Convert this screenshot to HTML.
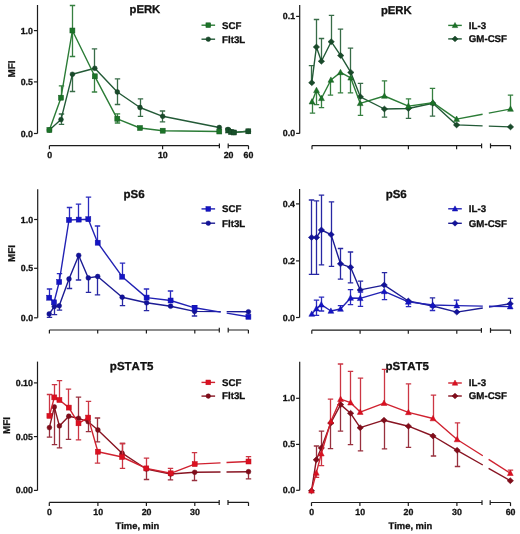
<!DOCTYPE html>
<html><head><meta charset="utf-8"><style>html,body{margin:0;padding:0;background:#fff;width:520px;height:534px;overflow:hidden}</style></head>
<body><svg width="520" height="534" viewBox="0 0 520 534" style="display:block;will-change:transform;font-family:'Liberation Sans', sans-serif;font-kerning:none;text-rendering:geometricPrecision">
<rect width="520" height="534" fill="#fff"/>
<path d="M37.5,5 V133.5" stroke="#1c1c1c" stroke-width="1.2" fill="none"/>
<path d="M33.90,30.6 H37.5" stroke="#1c1c1c" stroke-width="1.2"/>
<text x="32.90" y="33.60" font-size="8.8" font-weight="bold" text-anchor="end" fill="#111" stroke="#111" stroke-width="0.3" >1.0</text>
<path d="M33.90,81.9 H37.5" stroke="#1c1c1c" stroke-width="1.2"/>
<text x="32.90" y="84.90" font-size="8.8" font-weight="bold" text-anchor="end" fill="#111" stroke="#111" stroke-width="0.3" >0.5</text>
<path d="M33.90,133.5 H37.5" stroke="#1c1c1c" stroke-width="1.2"/>
<text x="32.90" y="136.50" font-size="8.8" font-weight="bold" text-anchor="end" fill="#111" stroke="#111" stroke-width="0.3" >0.0</text>
<path d="M49.4,145.7 H219.4 M228.2,145.7 H248.5" stroke="#1c1c1c" stroke-width="1.2" fill="none"/>
<path d="M49.4,145.7 V149.29999999999998" stroke="#1c1c1c" stroke-width="1.2"/>
<path d="M162.6,145.7 V149.29999999999998" stroke="#1c1c1c" stroke-width="1.2"/>
<path d="M219.4,143.39999999999998 V148.29999999999998" stroke="#1c1c1c" stroke-width="1.2"/>
<path d="M228.2,143.39999999999998 V148.29999999999998" stroke="#1c1c1c" stroke-width="1.2"/>
<path d="M248.5,145.7 V149.29999999999998" stroke="#1c1c1c" stroke-width="1.2"/>
<text x="49.60" y="158.40" font-size="8.8" font-weight="bold" text-anchor="middle" fill="#111" stroke="#111" stroke-width="0.3" >0</text>
<text x="162.80" y="158.40" font-size="8.8" font-weight="bold" text-anchor="middle" fill="#111" stroke="#111" stroke-width="0.3" >10</text>
<text x="228.60" y="158.40" font-size="8.8" font-weight="bold" text-anchor="middle" fill="#111" stroke="#111" stroke-width="0.3" >20</text>
<text x="248.40" y="158.40" font-size="8.8" font-weight="bold" text-anchor="middle" fill="#111" stroke="#111" stroke-width="0.3" >60</text>
<text x="0" y="0" font-size="9.9" font-weight="bold" text-anchor="middle" fill="#111" stroke="#111" stroke-width="0.3" transform="translate(14.90,69.00) rotate(-90)">MFI</text>
<text x="144.90" y="13.30" font-size="11.3" font-weight="bold" text-anchor="middle" fill="#111" stroke="#111" stroke-width="0.3" >pERK</text>
<path d="M201.50,25.2 H215.10" stroke="#2b7c36" stroke-width="1.4"/>
<rect x="205.93" y="22.82" width="4.75" height="4.75" fill="#1c7428" stroke="#145a20" stroke-width="0.5"/>
<text x="222.10" y="28.50" font-size="9.7" font-weight="bold" text-anchor="start" fill="#111" stroke="#111" stroke-width="0.3" >SCF</text>
<path d="M201.50,39.2 H215.10" stroke="#235a37" stroke-width="1.4"/>
<circle cx="208.30" cy="39.20" r="2.28" fill="#194a2a" stroke="#133c22" stroke-width="0.5"/>
<text x="222.10" y="42.50" font-size="9.7" font-weight="bold" text-anchor="start" fill="#111" stroke="#111" stroke-width="0.3" >Flt3L</text>
<path d="M61.50,119.60 V114.00 M58.80,114.00 H64.20" stroke="#386c48" stroke-width="1.3" fill="none"/>
<path d="M61.50,119.60 V124.30 M58.80,124.30 H64.20" stroke="#386c48" stroke-width="1.3" fill="none"/>
<path d="M72.50,74.30 V91.50 M69.80,91.50 H75.20" stroke="#386c48" stroke-width="1.3" fill="none"/>
<path d="M94.50,68.30 V48.80 M91.80,48.80 H97.20" stroke="#386c48" stroke-width="1.3" fill="none"/>
<path d="M117.50,92.00 V78.80 M114.80,78.80 H120.20" stroke="#386c48" stroke-width="1.3" fill="none"/>
<path d="M117.50,92.00 V104.50 M114.80,104.50 H120.20" stroke="#386c48" stroke-width="1.3" fill="none"/>
<path d="M140.50,107.50 V98.80 M137.80,98.80 H143.20" stroke="#386c48" stroke-width="1.3" fill="none"/>
<path d="M140.50,107.50 V116.30 M137.80,116.30 H143.20" stroke="#386c48" stroke-width="1.3" fill="none"/>
<path d="M162.50,116.30 V111.00 M159.80,111.00 H165.20" stroke="#386c48" stroke-width="1.3" fill="none"/>
<path d="M162.50,116.30 V121.80 M159.80,121.80 H165.20" stroke="#386c48" stroke-width="1.3" fill="none"/>
<path d="M49.40,130.00 L61.00,119.60 L72.40,74.30 L94.80,68.30 L117.30,92.00 L140.00,107.50 L162.70,116.30 L219.30,127.50" stroke="#235a37" stroke-width="1.4" fill="none" stroke-linejoin="round"/>
<circle cx="49.40" cy="130.00" r="2.40" fill="#194a2a" stroke="#133c22" stroke-width="0.5"/>
<circle cx="61.00" cy="119.60" r="2.40" fill="#194a2a" stroke="#133c22" stroke-width="0.5"/>
<circle cx="72.40" cy="74.30" r="2.40" fill="#194a2a" stroke="#133c22" stroke-width="0.5"/>
<circle cx="94.80" cy="68.30" r="2.40" fill="#194a2a" stroke="#133c22" stroke-width="0.5"/>
<circle cx="117.30" cy="92.00" r="2.40" fill="#194a2a" stroke="#133c22" stroke-width="0.5"/>
<circle cx="140.00" cy="107.50" r="2.40" fill="#194a2a" stroke="#133c22" stroke-width="0.5"/>
<circle cx="162.70" cy="116.30" r="2.40" fill="#194a2a" stroke="#133c22" stroke-width="0.5"/>
<circle cx="219.30" cy="127.50" r="2.40" fill="#194a2a" stroke="#133c22" stroke-width="0.5"/>
<path d="M228.00,129.50 L230.90,131.80 L233.90,132.40 L248.30,131.30" stroke="#235a37" stroke-width="1.4" fill="none" stroke-linejoin="round"/>
<circle cx="228.00" cy="129.50" r="2.40" fill="#194a2a" stroke="#133c22" stroke-width="0.5"/>
<circle cx="230.90" cy="131.80" r="2.40" fill="#194a2a" stroke="#133c22" stroke-width="0.5"/>
<circle cx="233.90" cy="132.40" r="2.40" fill="#194a2a" stroke="#133c22" stroke-width="0.5"/>
<circle cx="248.30" cy="131.30" r="2.40" fill="#194a2a" stroke="#133c22" stroke-width="0.5"/>
<path d="M61.50,97.70 V85.90 M58.80,85.90 H64.20" stroke="#368040" stroke-width="1.3" fill="none"/>
<path d="M72.50,30.50 V5.50 M69.80,5.50 H75.20" stroke="#368040" stroke-width="1.3" fill="none"/>
<path d="M72.50,30.50 V56.50 M69.80,56.50 H75.20" stroke="#368040" stroke-width="1.3" fill="none"/>
<path d="M94.50,76.30 V92.00 M91.80,92.00 H97.20" stroke="#368040" stroke-width="1.3" fill="none"/>
<path d="M117.50,118.80 V113.80 M114.80,113.80 H120.20" stroke="#368040" stroke-width="1.3" fill="none"/>
<path d="M117.50,118.80 V123.00 M114.80,123.00 H120.20" stroke="#368040" stroke-width="1.3" fill="none"/>
<path d="M49.40,130.00 L61.00,97.70 L72.40,30.50 L94.80,76.30 L117.30,118.80 L140.00,128.00 L162.70,130.70 L219.30,131.50" stroke="#2b7c36" stroke-width="1.4" fill="none" stroke-linejoin="round"/>
<rect x="46.90" y="127.50" width="5.00" height="5.00" fill="#1c7428" stroke="#145a20" stroke-width="0.5"/>
<rect x="58.50" y="95.20" width="5.00" height="5.00" fill="#1c7428" stroke="#145a20" stroke-width="0.5"/>
<rect x="69.90" y="28.00" width="5.00" height="5.00" fill="#1c7428" stroke="#145a20" stroke-width="0.5"/>
<rect x="92.30" y="73.80" width="5.00" height="5.00" fill="#1c7428" stroke="#145a20" stroke-width="0.5"/>
<rect x="114.80" y="116.30" width="5.00" height="5.00" fill="#1c7428" stroke="#145a20" stroke-width="0.5"/>
<rect x="137.50" y="125.50" width="5.00" height="5.00" fill="#1c7428" stroke="#145a20" stroke-width="0.5"/>
<rect x="160.20" y="128.20" width="5.00" height="5.00" fill="#1c7428" stroke="#145a20" stroke-width="0.5"/>
<rect x="216.80" y="129.00" width="5.00" height="5.00" fill="#1c7428" stroke="#145a20" stroke-width="0.5"/>
<path d="M228.20,130.50 L231.00,132.00 L234.00,132.50 L248.30,131.30" stroke="#2a6a3a" stroke-width="1.4" fill="none" stroke-linejoin="round"/>
<rect x="225.70" y="128.00" width="5.00" height="5.00" fill="#17502a" stroke="#123f20" stroke-width="0.5"/>
<rect x="228.50" y="129.50" width="5.00" height="5.00" fill="#17502a" stroke="#123f20" stroke-width="0.5"/>
<rect x="231.50" y="130.00" width="5.00" height="5.00" fill="#17502a" stroke="#123f20" stroke-width="0.5"/>
<rect x="245.80" y="128.80" width="5.00" height="5.00" fill="#17502a" stroke="#123f20" stroke-width="0.5"/>
<path d="M299.7,5.0 V133.5" stroke="#1c1c1c" stroke-width="1.2" fill="none"/>
<path d="M296.10,16.4 H299.7" stroke="#1c1c1c" stroke-width="1.2"/>
<text x="295.10" y="19.40" font-size="8.8" font-weight="bold" text-anchor="end" fill="#111" stroke="#111" stroke-width="0.3" >0.1</text>
<path d="M296.10,133.4 H299.7" stroke="#1c1c1c" stroke-width="1.2"/>
<text x="295.10" y="136.40" font-size="8.8" font-weight="bold" text-anchor="end" fill="#111" stroke="#111" stroke-width="0.3" >0.0</text>
<path d="M311.8,145.7 H481.6 M490.5,145.7 H510.5" stroke="#1c1c1c" stroke-width="1.2" fill="none"/>
<path d="M312,145.7 V149.29999999999998" stroke="#1c1c1c" stroke-width="1.2"/>
<path d="M360.3,145.7 V149.29999999999998" stroke="#1c1c1c" stroke-width="1.2"/>
<path d="M408.4,145.7 V149.29999999999998" stroke="#1c1c1c" stroke-width="1.2"/>
<path d="M456.6,145.7 V149.29999999999998" stroke="#1c1c1c" stroke-width="1.2"/>
<path d="M481.6,143.39999999999998 V148.29999999999998" stroke="#1c1c1c" stroke-width="1.2"/>
<path d="M490.5,143.39999999999998 V148.29999999999998" stroke="#1c1c1c" stroke-width="1.2"/>
<path d="M510.5,145.7 V149.29999999999998" stroke="#1c1c1c" stroke-width="1.2"/>
<text x="396.30" y="13.80" font-size="11.3" font-weight="bold" text-anchor="middle" fill="#111" stroke="#111" stroke-width="0.3" >pERK</text>
<path d="M448.20,25.4 H461.80" stroke="#2b7c36" stroke-width="1.4"/>
<path d="M455.00,22.45 L457.75,27.58 L452.25,27.58 Z" fill="#1c7428" stroke="#145a20" stroke-width="0.5" stroke-linejoin="round"/>
<text x="468.80" y="28.70" font-size="9.7" font-weight="bold" text-anchor="start" fill="#111" stroke="#111" stroke-width="0.3" >IL-3</text>
<path d="M448.20,38.9 H461.80" stroke="#235a37" stroke-width="1.4"/>
<path d="M455.00,36.05 L458.04,38.90 L455.00,41.75 L451.96,38.90 Z" fill="#194a2a" stroke="#133c22" stroke-width="0.5"/>
<text x="468.80" y="42.20" font-size="9.7" font-weight="bold" text-anchor="start" fill="#111" stroke="#111" stroke-width="0.3" >GM-CSF</text>
<path d="M311.50,82.70 V65.70 M308.80,65.70 H314.20" stroke="#386c48" stroke-width="1.3" fill="none"/>
<path d="M316.50,47.00 V19.50 M313.80,19.50 H319.20" stroke="#386c48" stroke-width="1.3" fill="none"/>
<path d="M321.50,61.30 V38.50 M318.80,38.50 H324.20" stroke="#386c48" stroke-width="1.3" fill="none"/>
<path d="M331.50,41.70 V15.40 M328.80,15.40 H334.20" stroke="#386c48" stroke-width="1.3" fill="none"/>
<path d="M340.50,55.60 V29.20 M337.80,29.20 H343.20" stroke="#386c48" stroke-width="1.3" fill="none"/>
<path d="M350.50,72.40 V48.20 M347.80,48.20 H353.20" stroke="#386c48" stroke-width="1.3" fill="none"/>
<path d="M360.50,96.80 V83.30 M357.80,83.30 H363.20" stroke="#386c48" stroke-width="1.3" fill="none"/>
<path d="M384.50,109.00 V117.10 M381.80,117.10 H387.20" stroke="#386c48" stroke-width="1.3" fill="none"/>
<path d="M408.50,108.50 V118.30 M405.80,118.30 H411.20" stroke="#386c48" stroke-width="1.3" fill="none"/>
<path d="M432.50,103.30 V116.20 M429.80,116.20 H435.20" stroke="#386c48" stroke-width="1.3" fill="none"/>
<path d="M311.80,82.70 L316.40,47.00 L321.40,61.30 L331.20,41.70 L340.70,55.60 L350.80,72.40 L360.30,96.80 L384.40,109.00 L408.40,108.50 L432.90,103.30 L456.60,124.90 L482.60,125.86" stroke="#235a37" stroke-width="1.4" fill="none" stroke-linejoin="round"/>
<path d="M488.80,126.09 L510.50,126.90" stroke="#235a37" stroke-width="1.4" fill="none" stroke-linejoin="round"/>
<path d="M311.80,79.70 L315.00,82.70 L311.80,85.70 L308.60,82.70 Z" fill="#194a2a" stroke="#133c22" stroke-width="0.5"/>
<path d="M316.40,44.00 L319.60,47.00 L316.40,50.00 L313.20,47.00 Z" fill="#194a2a" stroke="#133c22" stroke-width="0.5"/>
<path d="M321.40,58.30 L324.60,61.30 L321.40,64.30 L318.20,61.30 Z" fill="#194a2a" stroke="#133c22" stroke-width="0.5"/>
<path d="M331.20,38.70 L334.40,41.70 L331.20,44.70 L328.00,41.70 Z" fill="#194a2a" stroke="#133c22" stroke-width="0.5"/>
<path d="M340.70,52.60 L343.90,55.60 L340.70,58.60 L337.50,55.60 Z" fill="#194a2a" stroke="#133c22" stroke-width="0.5"/>
<path d="M350.80,69.40 L354.00,72.40 L350.80,75.40 L347.60,72.40 Z" fill="#194a2a" stroke="#133c22" stroke-width="0.5"/>
<path d="M360.30,93.80 L363.50,96.80 L360.30,99.80 L357.10,96.80 Z" fill="#194a2a" stroke="#133c22" stroke-width="0.5"/>
<path d="M384.40,106.00 L387.60,109.00 L384.40,112.00 L381.20,109.00 Z" fill="#194a2a" stroke="#133c22" stroke-width="0.5"/>
<path d="M408.40,105.50 L411.60,108.50 L408.40,111.50 L405.20,108.50 Z" fill="#194a2a" stroke="#133c22" stroke-width="0.5"/>
<path d="M432.90,100.30 L436.10,103.30 L432.90,106.30 L429.70,103.30 Z" fill="#194a2a" stroke="#133c22" stroke-width="0.5"/>
<path d="M456.60,121.90 L459.80,124.90 L456.60,127.90 L453.40,124.90 Z" fill="#194a2a" stroke="#133c22" stroke-width="0.5"/>
<path d="M510.50,123.90 L513.70,126.90 L510.50,129.90 L507.30,126.90 Z" fill="#194a2a" stroke="#133c22" stroke-width="0.5"/>
<path d="M312.50,101.70 V113.10 M309.80,113.10 H315.20" stroke="#368040" stroke-width="1.3" fill="none"/>
<path d="M316.50,90.30 V104.60 M313.80,104.60 H319.20" stroke="#368040" stroke-width="1.3" fill="none"/>
<path d="M321.50,98.30 V107.70 M318.80,107.70 H324.20" stroke="#368040" stroke-width="1.3" fill="none"/>
<path d="M330.50,80.00 V95.20 M327.80,95.20 H333.20" stroke="#368040" stroke-width="1.3" fill="none"/>
<path d="M340.50,72.40 V92.90 M337.80,92.90 H343.20" stroke="#368040" stroke-width="1.3" fill="none"/>
<path d="M350.50,77.80 V92.90 M347.80,92.90 H353.20" stroke="#368040" stroke-width="1.3" fill="none"/>
<path d="M360.50,103.30 V115.40 M357.80,115.40 H363.20" stroke="#368040" stroke-width="1.3" fill="none"/>
<path d="M384.50,96.00 V80.80 M381.80,80.80 H387.20" stroke="#368040" stroke-width="1.3" fill="none"/>
<path d="M408.50,106.10 V98.90 M405.80,98.90 H411.20" stroke="#368040" stroke-width="1.3" fill="none"/>
<path d="M432.50,102.70 V88.30 M429.80,88.30 H435.20" stroke="#368040" stroke-width="1.3" fill="none"/>
<path d="M510.50,109.00 V95.20 M507.80,95.20 H513.20" stroke="#368040" stroke-width="1.3" fill="none"/>
<path d="M312.00,101.70 L316.50,90.30 L321.50,98.30 L330.90,80.00 L340.50,72.40 L350.70,77.80 L360.20,103.30 L384.40,96.00 L408.40,106.10 L432.90,102.70 L456.60,119.10 L482.60,114.23" stroke="#2b7c36" stroke-width="1.4" fill="none" stroke-linejoin="round"/>
<path d="M488.80,113.07 L510.50,109.00" stroke="#2b7c36" stroke-width="1.4" fill="none" stroke-linejoin="round"/>
<path d="M312.00,98.60 L314.90,104.00 L309.10,104.00 Z" fill="#1c7428" stroke="#145a20" stroke-width="0.5" stroke-linejoin="round"/>
<path d="M316.50,87.20 L319.40,92.60 L313.60,92.60 Z" fill="#1c7428" stroke="#145a20" stroke-width="0.5" stroke-linejoin="round"/>
<path d="M321.50,95.20 L324.40,100.60 L318.60,100.60 Z" fill="#1c7428" stroke="#145a20" stroke-width="0.5" stroke-linejoin="round"/>
<path d="M330.90,76.90 L333.80,82.30 L328.00,82.30 Z" fill="#1c7428" stroke="#145a20" stroke-width="0.5" stroke-linejoin="round"/>
<path d="M340.50,69.30 L343.40,74.70 L337.60,74.70 Z" fill="#1c7428" stroke="#145a20" stroke-width="0.5" stroke-linejoin="round"/>
<path d="M350.70,74.70 L353.60,80.10 L347.80,80.10 Z" fill="#1c7428" stroke="#145a20" stroke-width="0.5" stroke-linejoin="round"/>
<path d="M360.20,100.20 L363.10,105.60 L357.30,105.60 Z" fill="#1c7428" stroke="#145a20" stroke-width="0.5" stroke-linejoin="round"/>
<path d="M384.40,92.90 L387.30,98.30 L381.50,98.30 Z" fill="#1c7428" stroke="#145a20" stroke-width="0.5" stroke-linejoin="round"/>
<path d="M408.40,103.00 L411.30,108.40 L405.50,108.40 Z" fill="#1c7428" stroke="#145a20" stroke-width="0.5" stroke-linejoin="round"/>
<path d="M432.90,99.60 L435.80,105.00 L430.00,105.00 Z" fill="#1c7428" stroke="#145a20" stroke-width="0.5" stroke-linejoin="round"/>
<path d="M456.60,116.00 L459.50,121.40 L453.70,121.40 Z" fill="#1c7428" stroke="#145a20" stroke-width="0.5" stroke-linejoin="round"/>
<path d="M510.50,105.90 L513.40,111.30 L507.60,111.30 Z" fill="#1c7428" stroke="#145a20" stroke-width="0.5" stroke-linejoin="round"/>
<path d="M37.7,189.2 V317.8" stroke="#1c1c1c" stroke-width="1.2" fill="none"/>
<path d="M34.10,219.5 H37.7" stroke="#1c1c1c" stroke-width="1.2"/>
<text x="33.10" y="222.50" font-size="8.8" font-weight="bold" text-anchor="end" fill="#111" stroke="#111" stroke-width="0.3" >1.0</text>
<path d="M34.10,268.3 H37.7" stroke="#1c1c1c" stroke-width="1.2"/>
<text x="33.10" y="271.30" font-size="8.8" font-weight="bold" text-anchor="end" fill="#111" stroke="#111" stroke-width="0.3" >0.5</text>
<path d="M34.10,317.8 H37.7" stroke="#1c1c1c" stroke-width="1.2"/>
<text x="33.10" y="320.80" font-size="8.8" font-weight="bold" text-anchor="end" fill="#111" stroke="#111" stroke-width="0.3" >0.0</text>
<path d="M49.4,330.0 H219.3 M228.2,330.0 H248.4" stroke="#1c1c1c" stroke-width="1.2" fill="none"/>
<path d="M49.4,330.0 V333.6" stroke="#1c1c1c" stroke-width="1.2"/>
<path d="M97.7,330.0 V333.6" stroke="#1c1c1c" stroke-width="1.2"/>
<path d="M146.4,330.0 V333.6" stroke="#1c1c1c" stroke-width="1.2"/>
<path d="M194.8,330.0 V333.6" stroke="#1c1c1c" stroke-width="1.2"/>
<path d="M219.3,327.7 V332.6" stroke="#1c1c1c" stroke-width="1.2"/>
<path d="M228.2,327.7 V332.6" stroke="#1c1c1c" stroke-width="1.2"/>
<path d="M248.4,330.0 V333.6" stroke="#1c1c1c" stroke-width="1.2"/>
<text x="0" y="0" font-size="9.9" font-weight="bold" text-anchor="middle" fill="#111" stroke="#111" stroke-width="0.3" transform="translate(14.90,253.60) rotate(-90)">MFI</text>
<text x="134.00" y="198.00" font-size="11.5" font-weight="bold" text-anchor="middle" fill="#111" stroke="#111" stroke-width="0.3" >pS6</text>
<path d="M201.50,208.9 H215.10" stroke="#2222b4" stroke-width="1.4"/>
<rect x="205.93" y="206.53" width="4.75" height="4.75" fill="#1414c4" stroke="#1010a8" stroke-width="0.5"/>
<text x="222.10" y="212.20" font-size="9.7" font-weight="bold" text-anchor="start" fill="#111" stroke="#111" stroke-width="0.3" >SCF</text>
<path d="M201.50,223.2 H215.10" stroke="#1c1c94" stroke-width="1.4"/>
<circle cx="208.30" cy="223.20" r="2.28" fill="#12129a" stroke="#0e0e80" stroke-width="0.5"/>
<text x="222.10" y="226.50" font-size="9.7" font-weight="bold" text-anchor="start" fill="#111" stroke="#111" stroke-width="0.3" >Flt3L</text>
<path d="M49.50,314.00 V317.30 M46.80,317.30 H52.20" stroke="#2828a4" stroke-width="1.3" fill="none"/>
<path d="M54.50,306.60 V314.60 M51.80,314.60 H57.20" stroke="#2828a4" stroke-width="1.3" fill="none"/>
<path d="M59.50,305.80 V310.20 M56.80,310.20 H62.20" stroke="#2828a4" stroke-width="1.3" fill="none"/>
<path d="M69.50,279.00 V288.50 M66.80,288.50 H72.20" stroke="#2828a4" stroke-width="1.3" fill="none"/>
<path d="M78.50,255.40 V280.00 M75.80,280.00 H81.20" stroke="#2828a4" stroke-width="1.3" fill="none"/>
<path d="M88.50,277.90 V292.30 M85.80,292.30 H91.20" stroke="#2828a4" stroke-width="1.3" fill="none"/>
<path d="M97.50,276.50 V294.80 M94.80,294.80 H100.20" stroke="#2828a4" stroke-width="1.3" fill="none"/>
<path d="M122.50,297.20 V305.70 M119.80,305.70 H125.20" stroke="#2828a4" stroke-width="1.3" fill="none"/>
<path d="M146.50,302.80 V310.60 M143.80,310.60 H149.20" stroke="#2828a4" stroke-width="1.3" fill="none"/>
<path d="M194.50,311.40 V316.00 M191.80,316.00 H197.20" stroke="#2828a4" stroke-width="1.3" fill="none"/>
<path d="M49.20,314.00 L54.30,306.60 L59.20,305.80 L69.00,279.00 L78.70,255.40 L88.30,277.90 L97.70,276.50 L122.20,297.20 L146.60,302.80 L170.60,306.20 L194.60,311.40 L220.70,311.59" stroke="#1c1c94" stroke-width="1.4" fill="none" stroke-linejoin="round"/>
<path d="M226.70,311.64 L248.40,311.80" stroke="#1c1c94" stroke-width="1.4" fill="none" stroke-linejoin="round"/>
<circle cx="49.20" cy="314.00" r="2.40" fill="#12129a" stroke="#0e0e80" stroke-width="0.5"/>
<circle cx="54.30" cy="306.60" r="2.40" fill="#12129a" stroke="#0e0e80" stroke-width="0.5"/>
<circle cx="59.20" cy="305.80" r="2.40" fill="#12129a" stroke="#0e0e80" stroke-width="0.5"/>
<circle cx="69.00" cy="279.00" r="2.40" fill="#12129a" stroke="#0e0e80" stroke-width="0.5"/>
<circle cx="78.70" cy="255.40" r="2.40" fill="#12129a" stroke="#0e0e80" stroke-width="0.5"/>
<circle cx="88.30" cy="277.90" r="2.40" fill="#12129a" stroke="#0e0e80" stroke-width="0.5"/>
<circle cx="97.70" cy="276.50" r="2.40" fill="#12129a" stroke="#0e0e80" stroke-width="0.5"/>
<circle cx="122.20" cy="297.20" r="2.40" fill="#12129a" stroke="#0e0e80" stroke-width="0.5"/>
<circle cx="146.60" cy="302.80" r="2.40" fill="#12129a" stroke="#0e0e80" stroke-width="0.5"/>
<circle cx="170.60" cy="306.20" r="2.40" fill="#12129a" stroke="#0e0e80" stroke-width="0.5"/>
<circle cx="194.60" cy="311.40" r="2.40" fill="#12129a" stroke="#0e0e80" stroke-width="0.5"/>
<circle cx="248.40" cy="311.80" r="2.40" fill="#12129a" stroke="#0e0e80" stroke-width="0.5"/>
<path d="M49.50,297.70 V289.00 M46.80,289.00 H52.20" stroke="#2b2bbe" stroke-width="1.3" fill="none"/>
<path d="M59.50,282.00 V273.70 M56.80,273.70 H62.20" stroke="#2b2bbe" stroke-width="1.3" fill="none"/>
<path d="M69.50,220.00 V207.50 M66.80,207.50 H72.20" stroke="#2b2bbe" stroke-width="1.3" fill="none"/>
<path d="M78.50,219.60 V204.20 M75.80,204.20 H81.20" stroke="#2b2bbe" stroke-width="1.3" fill="none"/>
<path d="M88.50,219.20 V197.10 M85.80,197.10 H91.20" stroke="#2b2bbe" stroke-width="1.3" fill="none"/>
<path d="M97.50,242.70 V226.00 M94.80,226.00 H100.20" stroke="#2b2bbe" stroke-width="1.3" fill="none"/>
<path d="M122.50,276.70 V263.20 M119.80,263.20 H125.20" stroke="#2b2bbe" stroke-width="1.3" fill="none"/>
<path d="M146.50,297.60 V289.00 M143.80,289.00 H149.20" stroke="#2b2bbe" stroke-width="1.3" fill="none"/>
<path d="M170.50,300.50 V291.00 M167.80,291.00 H173.20" stroke="#2b2bbe" stroke-width="1.3" fill="none"/>
<path d="M194.50,307.80 V305.70 M191.80,305.70 H197.20" stroke="#2b2bbe" stroke-width="1.3" fill="none"/>
<path d="M49.20,297.70 L54.00,302.30 L59.20,282.00 L69.00,220.00 L78.70,219.60 L88.30,219.20 L97.70,242.70 L122.20,276.70 L146.60,297.60 L170.60,300.50 L194.60,307.80 L220.70,312.17" stroke="#2222b4" stroke-width="1.4" fill="none" stroke-linejoin="round"/>
<path d="M226.70,313.17 L248.40,316.80" stroke="#2222b4" stroke-width="1.4" fill="none" stroke-linejoin="round"/>
<rect x="46.70" y="295.20" width="5.00" height="5.00" fill="#1414c4" stroke="#1010a8" stroke-width="0.5"/>
<rect x="51.50" y="299.80" width="5.00" height="5.00" fill="#1414c4" stroke="#1010a8" stroke-width="0.5"/>
<rect x="56.70" y="279.50" width="5.00" height="5.00" fill="#1414c4" stroke="#1010a8" stroke-width="0.5"/>
<rect x="66.50" y="217.50" width="5.00" height="5.00" fill="#1414c4" stroke="#1010a8" stroke-width="0.5"/>
<rect x="76.20" y="217.10" width="5.00" height="5.00" fill="#1414c4" stroke="#1010a8" stroke-width="0.5"/>
<rect x="85.80" y="216.70" width="5.00" height="5.00" fill="#1414c4" stroke="#1010a8" stroke-width="0.5"/>
<rect x="95.20" y="240.20" width="5.00" height="5.00" fill="#1414c4" stroke="#1010a8" stroke-width="0.5"/>
<rect x="119.70" y="274.20" width="5.00" height="5.00" fill="#1414c4" stroke="#1010a8" stroke-width="0.5"/>
<rect x="144.10" y="295.10" width="5.00" height="5.00" fill="#1414c4" stroke="#1010a8" stroke-width="0.5"/>
<rect x="168.10" y="298.00" width="5.00" height="5.00" fill="#1414c4" stroke="#1010a8" stroke-width="0.5"/>
<rect x="192.10" y="305.30" width="5.00" height="5.00" fill="#1414c4" stroke="#1010a8" stroke-width="0.5"/>
<rect x="245.90" y="314.30" width="5.00" height="5.00" fill="#1414c4" stroke="#1010a8" stroke-width="0.5"/>
<path d="M299.6,189 V317.5" stroke="#1c1c1c" stroke-width="1.2" fill="none"/>
<path d="M296.00,203.9 H299.6" stroke="#1c1c1c" stroke-width="1.2"/>
<text x="295.00" y="206.90" font-size="8.8" font-weight="bold" text-anchor="end" fill="#111" stroke="#111" stroke-width="0.3" >0.4</text>
<path d="M296.00,260.9 H299.6" stroke="#1c1c1c" stroke-width="1.2"/>
<text x="295.00" y="263.90" font-size="8.8" font-weight="bold" text-anchor="end" fill="#111" stroke="#111" stroke-width="0.3" >0.2</text>
<path d="M296.00,317.5 H299.6" stroke="#1c1c1c" stroke-width="1.2"/>
<text x="295.00" y="320.50" font-size="8.8" font-weight="bold" text-anchor="end" fill="#111" stroke="#111" stroke-width="0.3" >0.0</text>
<path d="M311.8,330.2 H481.4 M490.5,330.2 H510.5" stroke="#1c1c1c" stroke-width="1.2" fill="none"/>
<path d="M311.8,330.2 V333.8" stroke="#1c1c1c" stroke-width="1.2"/>
<path d="M360.1,330.2 V333.8" stroke="#1c1c1c" stroke-width="1.2"/>
<path d="M408.3,330.2 V333.8" stroke="#1c1c1c" stroke-width="1.2"/>
<path d="M456.8,330.2 V333.8" stroke="#1c1c1c" stroke-width="1.2"/>
<path d="M481.4,327.9 V332.8" stroke="#1c1c1c" stroke-width="1.2"/>
<path d="M490.5,327.9 V332.8" stroke="#1c1c1c" stroke-width="1.2"/>
<path d="M510.5,330.2 V333.8" stroke="#1c1c1c" stroke-width="1.2"/>
<text x="396.20" y="198.00" font-size="11.5" font-weight="bold" text-anchor="middle" fill="#111" stroke="#111" stroke-width="0.3" >pS6</text>
<path d="M448.20,208.8 H461.80" stroke="#2222b4" stroke-width="1.4"/>
<path d="M455.00,205.86 L457.75,210.99 L452.25,210.99 Z" fill="#1414c4" stroke="#1010a8" stroke-width="0.5" stroke-linejoin="round"/>
<text x="468.80" y="212.10" font-size="9.7" font-weight="bold" text-anchor="start" fill="#111" stroke="#111" stroke-width="0.3" >IL-3</text>
<path d="M448.20,223.3 H461.80" stroke="#1c1c94" stroke-width="1.4"/>
<path d="M455.00,220.45 L458.04,223.30 L455.00,226.15 L451.96,223.30 Z" fill="#12129a" stroke="#0e0e80" stroke-width="0.5"/>
<text x="468.80" y="226.60" font-size="9.7" font-weight="bold" text-anchor="start" fill="#111" stroke="#111" stroke-width="0.3" >GM-CSF</text>
<path d="M311.50,237.40 V200.00 M308.80,200.00 H314.20" stroke="#2828a4" stroke-width="1.3" fill="none"/>
<path d="M311.50,237.40 V274.40 M308.80,274.40 H314.20" stroke="#2828a4" stroke-width="1.3" fill="none"/>
<path d="M316.50,237.40 V200.80 M313.80,200.80 H319.20" stroke="#2828a4" stroke-width="1.3" fill="none"/>
<path d="M316.50,237.40 V274.40 M313.80,274.40 H319.20" stroke="#2828a4" stroke-width="1.3" fill="none"/>
<path d="M321.50,230.00 V195.10 M318.80,195.10 H324.20" stroke="#2828a4" stroke-width="1.3" fill="none"/>
<path d="M321.50,230.00 V264.80 M318.80,264.80 H324.20" stroke="#2828a4" stroke-width="1.3" fill="none"/>
<path d="M331.50,234.60 V201.80 M328.80,201.80 H334.20" stroke="#2828a4" stroke-width="1.3" fill="none"/>
<path d="M331.50,234.60 V266.30 M328.80,266.30 H334.20" stroke="#2828a4" stroke-width="1.3" fill="none"/>
<path d="M340.50,263.80 V248.50 M337.80,248.50 H343.20" stroke="#2828a4" stroke-width="1.3" fill="none"/>
<path d="M340.50,263.80 V279.10 M337.80,279.10 H343.20" stroke="#2828a4" stroke-width="1.3" fill="none"/>
<path d="M350.50,267.30 V252.00 M347.80,252.00 H353.20" stroke="#2828a4" stroke-width="1.3" fill="none"/>
<path d="M350.50,267.30 V282.80 M347.80,282.80 H353.20" stroke="#2828a4" stroke-width="1.3" fill="none"/>
<path d="M360.50,289.90 V281.20 M357.80,281.20 H363.20" stroke="#2828a4" stroke-width="1.3" fill="none"/>
<path d="M384.50,285.10 V272.70 M381.80,272.70 H387.20" stroke="#2828a4" stroke-width="1.3" fill="none"/>
<path d="M432.50,306.00 V297.80 M429.80,297.80 H435.20" stroke="#2828a4" stroke-width="1.3" fill="none"/>
<path d="M510.50,303.80 V298.30 M507.80,298.30 H513.20" stroke="#2828a4" stroke-width="1.3" fill="none"/>
<path d="M311.60,237.40 L316.50,237.40 L321.40,230.00 L331.10,234.60 L340.50,263.80 L350.60,267.30 L360.20,289.90 L384.20,285.10 L408.30,301.00 L432.80,306.00 L456.80,312.10 L482.80,308.06" stroke="#1c1c94" stroke-width="1.4" fill="none" stroke-linejoin="round"/>
<path d="M489.00,307.10 L510.20,303.80" stroke="#1c1c94" stroke-width="1.4" fill="none" stroke-linejoin="round"/>
<path d="M311.60,234.40 L314.80,237.40 L311.60,240.40 L308.40,237.40 Z" fill="#12129a" stroke="#0e0e80" stroke-width="0.5"/>
<path d="M316.50,234.40 L319.70,237.40 L316.50,240.40 L313.30,237.40 Z" fill="#12129a" stroke="#0e0e80" stroke-width="0.5"/>
<path d="M321.40,227.00 L324.60,230.00 L321.40,233.00 L318.20,230.00 Z" fill="#12129a" stroke="#0e0e80" stroke-width="0.5"/>
<path d="M331.10,231.60 L334.30,234.60 L331.10,237.60 L327.90,234.60 Z" fill="#12129a" stroke="#0e0e80" stroke-width="0.5"/>
<path d="M340.50,260.80 L343.70,263.80 L340.50,266.80 L337.30,263.80 Z" fill="#12129a" stroke="#0e0e80" stroke-width="0.5"/>
<path d="M350.60,264.30 L353.80,267.30 L350.60,270.30 L347.40,267.30 Z" fill="#12129a" stroke="#0e0e80" stroke-width="0.5"/>
<path d="M360.20,286.90 L363.40,289.90 L360.20,292.90 L357.00,289.90 Z" fill="#12129a" stroke="#0e0e80" stroke-width="0.5"/>
<path d="M384.20,282.10 L387.40,285.10 L384.20,288.10 L381.00,285.10 Z" fill="#12129a" stroke="#0e0e80" stroke-width="0.5"/>
<path d="M408.30,298.00 L411.50,301.00 L408.30,304.00 L405.10,301.00 Z" fill="#12129a" stroke="#0e0e80" stroke-width="0.5"/>
<path d="M432.80,303.00 L436.00,306.00 L432.80,309.00 L429.60,306.00 Z" fill="#12129a" stroke="#0e0e80" stroke-width="0.5"/>
<path d="M456.80,309.10 L460.00,312.10 L456.80,315.10 L453.60,312.10 Z" fill="#12129a" stroke="#0e0e80" stroke-width="0.5"/>
<path d="M510.20,300.80 L513.40,303.80 L510.20,306.80 L507.00,303.80 Z" fill="#12129a" stroke="#0e0e80" stroke-width="0.5"/>
<path d="M316.50,308.60 V300.20 M313.80,300.20 H319.20" stroke="#2b2bbe" stroke-width="1.3" fill="none"/>
<path d="M316.50,308.60 V315.30 M313.80,315.30 H319.20" stroke="#2b2bbe" stroke-width="1.3" fill="none"/>
<path d="M321.50,304.70 V297.10 M318.80,297.10 H324.20" stroke="#2b2bbe" stroke-width="1.3" fill="none"/>
<path d="M321.50,304.70 V311.00 M318.80,311.00 H324.20" stroke="#2b2bbe" stroke-width="1.3" fill="none"/>
<path d="M340.50,309.00 V305.60 M337.80,305.60 H343.20" stroke="#2b2bbe" stroke-width="1.3" fill="none"/>
<path d="M350.50,298.00 V289.60 M347.80,289.60 H353.20" stroke="#2b2bbe" stroke-width="1.3" fill="none"/>
<path d="M350.50,298.00 V304.70 M347.80,304.70 H353.20" stroke="#2b2bbe" stroke-width="1.3" fill="none"/>
<path d="M360.50,298.30 V292.00 M357.80,292.00 H363.20" stroke="#2b2bbe" stroke-width="1.3" fill="none"/>
<path d="M360.50,298.30 V306.40 M357.80,306.40 H363.20" stroke="#2b2bbe" stroke-width="1.3" fill="none"/>
<path d="M384.50,291.40 V299.70 M381.80,299.70 H387.20" stroke="#2b2bbe" stroke-width="1.3" fill="none"/>
<path d="M408.50,301.90 V306.70 M405.80,306.70 H411.20" stroke="#2b2bbe" stroke-width="1.3" fill="none"/>
<path d="M432.50,305.00 V310.50 M429.80,310.50 H435.20" stroke="#2b2bbe" stroke-width="1.3" fill="none"/>
<path d="M456.50,305.60 V300.20 M453.80,300.20 H459.20" stroke="#2b2bbe" stroke-width="1.3" fill="none"/>
<path d="M311.80,314.00 L316.50,308.60 L321.30,304.70 L330.90,311.00 L340.50,309.00 L350.60,298.00 L360.20,298.30 L384.20,291.40 L408.30,301.90 L432.80,305.00 L456.80,305.60 L482.80,306.09" stroke="#2222b4" stroke-width="1.4" fill="none" stroke-linejoin="round"/>
<path d="M489.00,306.20 L510.20,306.60" stroke="#2222b4" stroke-width="1.4" fill="none" stroke-linejoin="round"/>
<path d="M311.80,310.90 L314.70,316.30 L308.90,316.30 Z" fill="#1414c4" stroke="#1010a8" stroke-width="0.5" stroke-linejoin="round"/>
<path d="M316.50,305.50 L319.40,310.90 L313.60,310.90 Z" fill="#1414c4" stroke="#1010a8" stroke-width="0.5" stroke-linejoin="round"/>
<path d="M321.30,301.60 L324.20,307.00 L318.40,307.00 Z" fill="#1414c4" stroke="#1010a8" stroke-width="0.5" stroke-linejoin="round"/>
<path d="M330.90,307.90 L333.80,313.30 L328.00,313.30 Z" fill="#1414c4" stroke="#1010a8" stroke-width="0.5" stroke-linejoin="round"/>
<path d="M340.50,305.90 L343.40,311.30 L337.60,311.30 Z" fill="#1414c4" stroke="#1010a8" stroke-width="0.5" stroke-linejoin="round"/>
<path d="M350.60,294.90 L353.50,300.30 L347.70,300.30 Z" fill="#1414c4" stroke="#1010a8" stroke-width="0.5" stroke-linejoin="round"/>
<path d="M360.20,295.20 L363.10,300.60 L357.30,300.60 Z" fill="#1414c4" stroke="#1010a8" stroke-width="0.5" stroke-linejoin="round"/>
<path d="M384.20,288.30 L387.10,293.70 L381.30,293.70 Z" fill="#1414c4" stroke="#1010a8" stroke-width="0.5" stroke-linejoin="round"/>
<path d="M408.30,298.80 L411.20,304.20 L405.40,304.20 Z" fill="#1414c4" stroke="#1010a8" stroke-width="0.5" stroke-linejoin="round"/>
<path d="M432.80,301.90 L435.70,307.30 L429.90,307.30 Z" fill="#1414c4" stroke="#1010a8" stroke-width="0.5" stroke-linejoin="round"/>
<path d="M456.80,302.50 L459.70,307.90 L453.90,307.90 Z" fill="#1414c4" stroke="#1010a8" stroke-width="0.5" stroke-linejoin="round"/>
<path d="M510.20,303.50 L513.10,308.90 L507.30,308.90 Z" fill="#1414c4" stroke="#1010a8" stroke-width="0.5" stroke-linejoin="round"/>
<path d="M37.5,361.6 V490.5" stroke="#1c1c1c" stroke-width="1.2" fill="none"/>
<path d="M33.90,382.9 H37.5" stroke="#1c1c1c" stroke-width="1.2"/>
<text x="32.90" y="385.90" font-size="8.8" font-weight="bold" text-anchor="end" fill="#111" stroke="#111" stroke-width="0.3" >0.10</text>
<path d="M33.90,436.6 H37.5" stroke="#1c1c1c" stroke-width="1.2"/>
<text x="32.90" y="439.60" font-size="8.8" font-weight="bold" text-anchor="end" fill="#111" stroke="#111" stroke-width="0.3" >0.05</text>
<path d="M33.90,490.4 H37.5" stroke="#1c1c1c" stroke-width="1.2"/>
<text x="32.90" y="493.40" font-size="8.8" font-weight="bold" text-anchor="end" fill="#111" stroke="#111" stroke-width="0.3" >0.00</text>
<path d="M49.3,502.4 H219.2 M228,502.4 H248.5" stroke="#1c1c1c" stroke-width="1.2" fill="none"/>
<path d="M49.3,502.4 V506.0" stroke="#1c1c1c" stroke-width="1.2"/>
<path d="M97.9,502.4 V506.0" stroke="#1c1c1c" stroke-width="1.2"/>
<path d="M146.4,502.4 V506.0" stroke="#1c1c1c" stroke-width="1.2"/>
<path d="M194.8,502.4 V506.0" stroke="#1c1c1c" stroke-width="1.2"/>
<path d="M219.2,500.09999999999997 V505.0" stroke="#1c1c1c" stroke-width="1.2"/>
<path d="M228,500.09999999999997 V505.0" stroke="#1c1c1c" stroke-width="1.2"/>
<path d="M248.5,502.4 V506.0" stroke="#1c1c1c" stroke-width="1.2"/>
<text x="49.50" y="515.10" font-size="8.8" font-weight="bold" text-anchor="middle" fill="#111" stroke="#111" stroke-width="0.3" >0</text>
<text x="98.20" y="515.10" font-size="8.8" font-weight="bold" text-anchor="middle" fill="#111" stroke="#111" stroke-width="0.3" >10</text>
<text x="146.60" y="515.10" font-size="8.8" font-weight="bold" text-anchor="middle" fill="#111" stroke="#111" stroke-width="0.3" >20</text>
<text x="195.00" y="515.10" font-size="8.8" font-weight="bold" text-anchor="middle" fill="#111" stroke="#111" stroke-width="0.3" >30</text>
<text x="0" y="0" font-size="9.9" font-weight="bold" text-anchor="middle" fill="#111" stroke="#111" stroke-width="0.3" transform="translate(9.90,425.60) rotate(-90)">MFI</text>
<text x="131.60" y="370.30" font-size="11.5" font-weight="bold" text-anchor="middle" fill="#111" stroke="#111" stroke-width="0.3" >pSTAT5</text>
<text x="137.40" y="529.40" font-size="9.4" font-weight="bold" text-anchor="middle" fill="#111" stroke="#111" stroke-width="0.3" >Time, min</text>
<path d="M201.50,382.4 H215.10" stroke="#d02230" stroke-width="1.4"/>
<rect x="205.93" y="380.02" width="4.75" height="4.75" fill="#dc1020" stroke="#c00c1c" stroke-width="0.5"/>
<text x="222.10" y="385.70" font-size="9.7" font-weight="bold" text-anchor="start" fill="#111" stroke="#111" stroke-width="0.3" >SCF</text>
<path d="M201.50,396.1 H215.10" stroke="#881422" stroke-width="1.4"/>
<circle cx="208.30" cy="396.10" r="2.28" fill="#820c1a" stroke="#6a0a14" stroke-width="0.5"/>
<text x="222.10" y="399.40" font-size="9.7" font-weight="bold" text-anchor="start" fill="#111" stroke="#111" stroke-width="0.3" >Flt3L</text>
<path d="M49.50,427.60 V437.20 M46.80,437.20 H52.20" stroke="#98303e" stroke-width="1.3" fill="none"/>
<path d="M54.50,406.90 V444.60 M51.80,444.60 H57.20" stroke="#98303e" stroke-width="1.3" fill="none"/>
<path d="M59.50,425.90 V447.90 M56.80,447.90 H62.20" stroke="#98303e" stroke-width="1.3" fill="none"/>
<path d="M68.50,416.20 V439.40 M65.80,439.40 H71.20" stroke="#98303e" stroke-width="1.3" fill="none"/>
<path d="M78.50,418.30 V397.20 M75.80,397.20 H81.20" stroke="#98303e" stroke-width="1.3" fill="none"/>
<path d="M88.50,421.70 V431.60 M85.80,431.60 H91.20" stroke="#98303e" stroke-width="1.3" fill="none"/>
<path d="M97.50,430.00 V418.00 M94.80,418.00 H100.20" stroke="#98303e" stroke-width="1.3" fill="none"/>
<path d="M97.50,430.00 V441.80 M94.80,441.80 H100.20" stroke="#98303e" stroke-width="1.3" fill="none"/>
<path d="M122.50,453.20 V443.50 M119.80,443.50 H125.20" stroke="#98303e" stroke-width="1.3" fill="none"/>
<path d="M146.50,469.00 V479.50 M143.80,479.50 H149.20" stroke="#98303e" stroke-width="1.3" fill="none"/>
<path d="M170.50,474.00 V479.80 M167.80,479.80 H173.20" stroke="#98303e" stroke-width="1.3" fill="none"/>
<path d="M194.50,472.30 V480.50 M191.80,480.50 H197.20" stroke="#98303e" stroke-width="1.3" fill="none"/>
<path d="M248.50,471.70 V478.80 M245.80,478.80 H251.20" stroke="#98303e" stroke-width="1.3" fill="none"/>
<path d="M49.40,427.60 L54.30,406.90 L59.40,425.90 L68.80,416.20 L78.50,418.30 L88.20,421.70 L97.90,430.00 L122.10,453.20 L146.30,469.00 L170.70,474.00 L194.70,472.30 L220.50,472.01" stroke="#881422" stroke-width="1.4" fill="none" stroke-linejoin="round"/>
<path d="M226.50,471.95 L248.50,471.70" stroke="#881422" stroke-width="1.4" fill="none" stroke-linejoin="round"/>
<circle cx="49.40" cy="427.60" r="2.40" fill="#820c1a" stroke="#6a0a14" stroke-width="0.5"/>
<circle cx="54.30" cy="406.90" r="2.40" fill="#820c1a" stroke="#6a0a14" stroke-width="0.5"/>
<circle cx="59.40" cy="425.90" r="2.40" fill="#820c1a" stroke="#6a0a14" stroke-width="0.5"/>
<circle cx="68.80" cy="416.20" r="2.40" fill="#820c1a" stroke="#6a0a14" stroke-width="0.5"/>
<circle cx="78.50" cy="418.30" r="2.40" fill="#820c1a" stroke="#6a0a14" stroke-width="0.5"/>
<circle cx="88.20" cy="421.70" r="2.40" fill="#820c1a" stroke="#6a0a14" stroke-width="0.5"/>
<circle cx="97.90" cy="430.00" r="2.40" fill="#820c1a" stroke="#6a0a14" stroke-width="0.5"/>
<circle cx="122.10" cy="453.20" r="2.40" fill="#820c1a" stroke="#6a0a14" stroke-width="0.5"/>
<circle cx="146.30" cy="469.00" r="2.40" fill="#820c1a" stroke="#6a0a14" stroke-width="0.5"/>
<circle cx="170.70" cy="474.00" r="2.40" fill="#820c1a" stroke="#6a0a14" stroke-width="0.5"/>
<circle cx="194.70" cy="472.30" r="2.40" fill="#820c1a" stroke="#6a0a14" stroke-width="0.5"/>
<circle cx="248.50" cy="471.70" r="2.40" fill="#820c1a" stroke="#6a0a14" stroke-width="0.5"/>
<path d="M49.50,415.90 V394.50 M46.80,394.50 H52.20" stroke="#cc3644" stroke-width="1.3" fill="none"/>
<path d="M54.50,397.40 V384.70 M51.80,384.70 H57.20" stroke="#cc3644" stroke-width="1.3" fill="none"/>
<path d="M59.50,400.00 V380.60 M56.80,380.60 H62.20" stroke="#cc3644" stroke-width="1.3" fill="none"/>
<path d="M68.50,407.60 V389.10 M65.80,389.10 H71.20" stroke="#cc3644" stroke-width="1.3" fill="none"/>
<path d="M78.50,423.30 V439.90 M75.80,439.90 H81.20" stroke="#cc3644" stroke-width="1.3" fill="none"/>
<path d="M88.50,417.60 V401.40 M85.80,401.40 H91.20" stroke="#cc3644" stroke-width="1.3" fill="none"/>
<path d="M97.50,451.70 V463.20 M94.80,463.20 H100.20" stroke="#cc3644" stroke-width="1.3" fill="none"/>
<path d="M122.50,457.00 V443.50 M119.80,443.50 H125.20" stroke="#cc3644" stroke-width="1.3" fill="none"/>
<path d="M122.50,457.00 V468.40 M119.80,468.40 H125.20" stroke="#cc3644" stroke-width="1.3" fill="none"/>
<path d="M146.50,468.40 V458.20 M143.80,458.20 H149.20" stroke="#cc3644" stroke-width="1.3" fill="none"/>
<path d="M170.50,473.30 V468.40 M167.80,468.40 H173.20" stroke="#cc3644" stroke-width="1.3" fill="none"/>
<path d="M194.50,464.10 V452.70 M191.80,452.70 H197.20" stroke="#cc3644" stroke-width="1.3" fill="none"/>
<path d="M248.50,461.50 V456.60 M245.80,456.60 H251.20" stroke="#cc3644" stroke-width="1.3" fill="none"/>
<path d="M49.40,415.90 L54.30,397.40 L59.40,400.00 L68.80,407.60 L78.50,423.30 L88.20,417.60 L97.90,451.70 L122.10,457.00 L146.30,468.40 L170.70,473.30 L194.70,464.10 L220.50,462.85" stroke="#d02230" stroke-width="1.4" fill="none" stroke-linejoin="round"/>
<path d="M226.50,462.56 L248.50,461.50" stroke="#d02230" stroke-width="1.4" fill="none" stroke-linejoin="round"/>
<rect x="46.90" y="413.40" width="5.00" height="5.00" fill="#dc1020" stroke="#c00c1c" stroke-width="0.5"/>
<rect x="51.80" y="394.90" width="5.00" height="5.00" fill="#dc1020" stroke="#c00c1c" stroke-width="0.5"/>
<rect x="56.90" y="397.50" width="5.00" height="5.00" fill="#dc1020" stroke="#c00c1c" stroke-width="0.5"/>
<rect x="66.30" y="405.10" width="5.00" height="5.00" fill="#dc1020" stroke="#c00c1c" stroke-width="0.5"/>
<rect x="76.00" y="420.80" width="5.00" height="5.00" fill="#dc1020" stroke="#c00c1c" stroke-width="0.5"/>
<rect x="85.70" y="415.10" width="5.00" height="5.00" fill="#dc1020" stroke="#c00c1c" stroke-width="0.5"/>
<rect x="95.40" y="449.20" width="5.00" height="5.00" fill="#dc1020" stroke="#c00c1c" stroke-width="0.5"/>
<rect x="119.60" y="454.50" width="5.00" height="5.00" fill="#dc1020" stroke="#c00c1c" stroke-width="0.5"/>
<rect x="143.80" y="465.90" width="5.00" height="5.00" fill="#dc1020" stroke="#c00c1c" stroke-width="0.5"/>
<rect x="168.20" y="470.80" width="5.00" height="5.00" fill="#dc1020" stroke="#c00c1c" stroke-width="0.5"/>
<rect x="192.20" y="461.60" width="5.00" height="5.00" fill="#dc1020" stroke="#c00c1c" stroke-width="0.5"/>
<rect x="246.00" y="459.00" width="5.00" height="5.00" fill="#dc1020" stroke="#c00c1c" stroke-width="0.5"/>
<path d="M299.7,361.7 V490.3" stroke="#1c1c1c" stroke-width="1.2" fill="none"/>
<path d="M296.10,398.3 H299.7" stroke="#1c1c1c" stroke-width="1.2"/>
<text x="295.10" y="401.30" font-size="8.8" font-weight="bold" text-anchor="end" fill="#111" stroke="#111" stroke-width="0.3" >1.0</text>
<path d="M296.10,444.4 H299.7" stroke="#1c1c1c" stroke-width="1.2"/>
<text x="295.10" y="447.40" font-size="8.8" font-weight="bold" text-anchor="end" fill="#111" stroke="#111" stroke-width="0.3" >0.5</text>
<path d="M296.10,490.3 H299.7" stroke="#1c1c1c" stroke-width="1.2"/>
<text x="295.10" y="493.30" font-size="8.8" font-weight="bold" text-anchor="end" fill="#111" stroke="#111" stroke-width="0.3" >0.0</text>
<path d="M311.5,502.5 H482 M490.2,502.5 H510.5" stroke="#1c1c1c" stroke-width="1.2" fill="none"/>
<path d="M311.5,502.5 V506.1" stroke="#1c1c1c" stroke-width="1.2"/>
<path d="M359.9,502.5 V506.1" stroke="#1c1c1c" stroke-width="1.2"/>
<path d="M408.3,502.5 V506.1" stroke="#1c1c1c" stroke-width="1.2"/>
<path d="M456.9,502.5 V506.1" stroke="#1c1c1c" stroke-width="1.2"/>
<path d="M482,500.2 V505.1" stroke="#1c1c1c" stroke-width="1.2"/>
<path d="M490.2,500.2 V505.1" stroke="#1c1c1c" stroke-width="1.2"/>
<path d="M510.5,502.5 V506.1" stroke="#1c1c1c" stroke-width="1.2"/>
<text x="311.70" y="515.20" font-size="8.8" font-weight="bold" text-anchor="middle" fill="#111" stroke="#111" stroke-width="0.3" >0</text>
<text x="360.20" y="515.20" font-size="8.8" font-weight="bold" text-anchor="middle" fill="#111" stroke="#111" stroke-width="0.3" >10</text>
<text x="408.50" y="515.20" font-size="8.8" font-weight="bold" text-anchor="middle" fill="#111" stroke="#111" stroke-width="0.3" >20</text>
<text x="457.00" y="515.20" font-size="8.8" font-weight="bold" text-anchor="middle" fill="#111" stroke="#111" stroke-width="0.3" >30</text>
<text x="510.60" y="515.20" font-size="8.8" font-weight="bold" text-anchor="middle" fill="#111" stroke="#111" stroke-width="0.3" >60</text>
<text x="407.20" y="370.30" font-size="11.5" font-weight="bold" text-anchor="middle" fill="#111" stroke="#111" stroke-width="0.3" >pSTAT5</text>
<text x="410.40" y="529.40" font-size="9.4" font-weight="bold" text-anchor="middle" fill="#111" stroke="#111" stroke-width="0.3" >Time, min</text>
<path d="M448.20,383 H461.80" stroke="#d02230" stroke-width="1.4"/>
<path d="M455.00,380.06 L457.75,385.19 L452.25,385.19 Z" fill="#dc1020" stroke="#c00c1c" stroke-width="0.5" stroke-linejoin="round"/>
<text x="468.80" y="386.30" font-size="9.7" font-weight="bold" text-anchor="start" fill="#111" stroke="#111" stroke-width="0.3" >IL-3</text>
<path d="M448.20,396 H461.80" stroke="#881422" stroke-width="1.4"/>
<path d="M455.00,393.15 L458.04,396.00 L455.00,398.85 L451.96,396.00 Z" fill="#820c1a" stroke="#6a0a14" stroke-width="0.5"/>
<text x="468.80" y="399.30" font-size="9.7" font-weight="bold" text-anchor="start" fill="#111" stroke="#111" stroke-width="0.3" >GM-CSF</text>
<path d="M316.50,459.80 V446.00 M313.80,446.00 H319.20" stroke="#98303e" stroke-width="1.3" fill="none"/>
<path d="M321.50,447.90 V431.20 M318.80,431.20 H324.20" stroke="#98303e" stroke-width="1.3" fill="none"/>
<path d="M330.50,423.00 V448.60 M327.80,448.60 H333.20" stroke="#98303e" stroke-width="1.3" fill="none"/>
<path d="M340.50,404.60 V431.20 M337.80,431.20 H343.20" stroke="#98303e" stroke-width="1.3" fill="none"/>
<path d="M350.50,413.30 V444.70 M347.80,444.70 H353.20" stroke="#98303e" stroke-width="1.3" fill="none"/>
<path d="M360.50,427.70 V450.80 M357.80,450.80 H363.20" stroke="#98303e" stroke-width="1.3" fill="none"/>
<path d="M384.50,420.20 V448.80 M381.80,448.80 H387.20" stroke="#98303e" stroke-width="1.3" fill="none"/>
<path d="M408.50,426.20 V447.40 M405.80,447.40 H411.20" stroke="#98303e" stroke-width="1.3" fill="none"/>
<path d="M433.50,436.00 V456.00 M430.80,456.00 H436.20" stroke="#98303e" stroke-width="1.3" fill="none"/>
<path d="M457.50,450.30 V466.50 M454.80,466.50 H460.20" stroke="#98303e" stroke-width="1.3" fill="none"/>
<path d="M311.50,490.80 L316.30,459.80 L321.30,447.90 L330.80,423.00 L340.60,404.60 L350.60,413.30 L360.20,427.70 L384.00,420.20 L408.40,426.20 L433.00,436.00 L457.10,450.30 L482.80,464.99" stroke="#881422" stroke-width="1.4" fill="none" stroke-linejoin="round"/>
<path d="M488.60,468.30 L510.30,480.70" stroke="#881422" stroke-width="1.4" fill="none" stroke-linejoin="round"/>
<path d="M311.50,487.80 L314.70,490.80 L311.50,493.80 L308.30,490.80 Z" fill="#820c1a" stroke="#6a0a14" stroke-width="0.5"/>
<path d="M316.30,456.80 L319.50,459.80 L316.30,462.80 L313.10,459.80 Z" fill="#820c1a" stroke="#6a0a14" stroke-width="0.5"/>
<path d="M321.30,444.90 L324.50,447.90 L321.30,450.90 L318.10,447.90 Z" fill="#820c1a" stroke="#6a0a14" stroke-width="0.5"/>
<path d="M330.80,420.00 L334.00,423.00 L330.80,426.00 L327.60,423.00 Z" fill="#820c1a" stroke="#6a0a14" stroke-width="0.5"/>
<path d="M340.60,401.60 L343.80,404.60 L340.60,407.60 L337.40,404.60 Z" fill="#820c1a" stroke="#6a0a14" stroke-width="0.5"/>
<path d="M350.60,410.30 L353.80,413.30 L350.60,416.30 L347.40,413.30 Z" fill="#820c1a" stroke="#6a0a14" stroke-width="0.5"/>
<path d="M360.20,424.70 L363.40,427.70 L360.20,430.70 L357.00,427.70 Z" fill="#820c1a" stroke="#6a0a14" stroke-width="0.5"/>
<path d="M384.00,417.20 L387.20,420.20 L384.00,423.20 L380.80,420.20 Z" fill="#820c1a" stroke="#6a0a14" stroke-width="0.5"/>
<path d="M408.40,423.20 L411.60,426.20 L408.40,429.20 L405.20,426.20 Z" fill="#820c1a" stroke="#6a0a14" stroke-width="0.5"/>
<path d="M433.00,433.00 L436.20,436.00 L433.00,439.00 L429.80,436.00 Z" fill="#820c1a" stroke="#6a0a14" stroke-width="0.5"/>
<path d="M457.10,447.30 L460.30,450.30 L457.10,453.30 L453.90,450.30 Z" fill="#820c1a" stroke="#6a0a14" stroke-width="0.5"/>
<path d="M510.30,477.70 L513.50,480.70 L510.30,483.70 L507.10,480.70 Z" fill="#820c1a" stroke="#6a0a14" stroke-width="0.5"/>
<path d="M316.50,472.90 V477.30 M313.80,477.30 H319.20" stroke="#cc3644" stroke-width="1.3" fill="none"/>
<path d="M321.50,453.70 V465.60 M318.80,465.60 H324.20" stroke="#cc3644" stroke-width="1.3" fill="none"/>
<path d="M330.50,421.50 V399.20 M327.80,399.20 H333.20" stroke="#cc3644" stroke-width="1.3" fill="none"/>
<path d="M340.50,399.20 V364.00 M337.80,364.00 H343.20" stroke="#cc3644" stroke-width="1.3" fill="none"/>
<path d="M350.50,402.70 V371.30 M347.80,371.30 H353.20" stroke="#cc3644" stroke-width="1.3" fill="none"/>
<path d="M360.50,412.10 V378.10 M357.80,378.10 H363.20" stroke="#cc3644" stroke-width="1.3" fill="none"/>
<path d="M384.50,403.20 V369.40 M381.80,369.40 H387.20" stroke="#cc3644" stroke-width="1.3" fill="none"/>
<path d="M408.50,412.40 V383.80 M405.80,383.80 H411.20" stroke="#cc3644" stroke-width="1.3" fill="none"/>
<path d="M433.50,418.50 V395.20 M430.80,395.20 H436.20" stroke="#cc3644" stroke-width="1.3" fill="none"/>
<path d="M457.50,439.50 V422.90 M454.80,422.90 H460.20" stroke="#cc3644" stroke-width="1.3" fill="none"/>
<path d="M510.50,473.20 V470.10 M507.80,470.10 H513.20" stroke="#cc3644" stroke-width="1.3" fill="none"/>
<path d="M311.50,490.80 L316.30,472.90 L321.30,453.70 L330.80,421.50 L340.60,399.20 L350.60,402.70 L360.20,412.10 L384.00,403.20 L408.40,412.40 L433.00,418.50 L457.10,439.50 L482.80,455.78" stroke="#d02230" stroke-width="1.4" fill="none" stroke-linejoin="round"/>
<path d="M488.60,459.45 L510.30,473.20" stroke="#d02230" stroke-width="1.4" fill="none" stroke-linejoin="round"/>
<path d="M311.50,487.70 L314.40,493.10 L308.60,493.10 Z" fill="#dc1020" stroke="#c00c1c" stroke-width="0.5" stroke-linejoin="round"/>
<path d="M316.30,469.80 L319.20,475.20 L313.40,475.20 Z" fill="#dc1020" stroke="#c00c1c" stroke-width="0.5" stroke-linejoin="round"/>
<path d="M321.30,450.60 L324.20,456.00 L318.40,456.00 Z" fill="#dc1020" stroke="#c00c1c" stroke-width="0.5" stroke-linejoin="round"/>
<path d="M330.80,418.40 L333.70,423.80 L327.90,423.80 Z" fill="#dc1020" stroke="#c00c1c" stroke-width="0.5" stroke-linejoin="round"/>
<path d="M340.60,396.10 L343.50,401.50 L337.70,401.50 Z" fill="#dc1020" stroke="#c00c1c" stroke-width="0.5" stroke-linejoin="round"/>
<path d="M350.60,399.60 L353.50,405.00 L347.70,405.00 Z" fill="#dc1020" stroke="#c00c1c" stroke-width="0.5" stroke-linejoin="round"/>
<path d="M360.20,409.00 L363.10,414.40 L357.30,414.40 Z" fill="#dc1020" stroke="#c00c1c" stroke-width="0.5" stroke-linejoin="round"/>
<path d="M384.00,400.10 L386.90,405.50 L381.10,405.50 Z" fill="#dc1020" stroke="#c00c1c" stroke-width="0.5" stroke-linejoin="round"/>
<path d="M408.40,409.30 L411.30,414.70 L405.50,414.70 Z" fill="#dc1020" stroke="#c00c1c" stroke-width="0.5" stroke-linejoin="round"/>
<path d="M433.00,415.40 L435.90,420.80 L430.10,420.80 Z" fill="#dc1020" stroke="#c00c1c" stroke-width="0.5" stroke-linejoin="round"/>
<path d="M457.10,436.40 L460.00,441.80 L454.20,441.80 Z" fill="#dc1020" stroke="#c00c1c" stroke-width="0.5" stroke-linejoin="round"/>
<path d="M510.30,470.10 L513.20,475.50 L507.40,475.50 Z" fill="#dc1020" stroke="#c00c1c" stroke-width="0.5" stroke-linejoin="round"/>
</svg></body></html>
